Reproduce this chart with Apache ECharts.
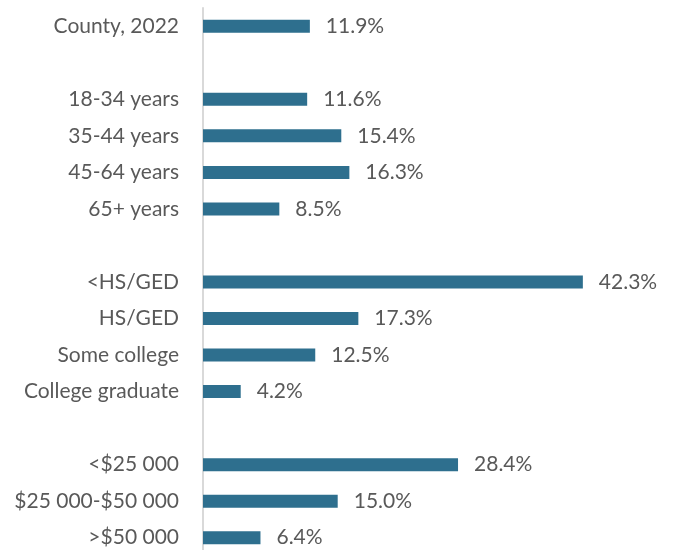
<!DOCTYPE html>
<html>
<head>
<meta charset="utf-8">
<script src="https://cdn.jsdelivr.net/npm/echarts@6/dist/echarts.min.js"></script>
<style>
  html, body { margin: 0; padding: 0; background: #fff; }
  #chart { width: 676px; height: 550px; }
</style>
</head>
<body>
<div id="chart"></div>
<script>
// categories, blanks are spacer rows between groups
const categories = [
    'County, 2022', ' ',
    '18-34 years', '35-44 years', '45-64 years', '65+ years', '  ',
    '<HS/GED', 'HS/GED', 'Some college', 'College graduate', '   ',
    '<$25 000', '$25 000-$50 000', '>$50 000'
];
const values = [
    11.9, null,
    11.6, 15.4, 16.3, 8.5, null,
    42.3, 17.3, 12.5, 4.2, null,
    28.4, 15.0, 6.4
];

let myChart = echarts.init(document.getElementById('chart'));
let option = {
    animation: false,
    textStyle: {fontFamily: 'Lato'},
    grid: {
        left: 203,
        right: 24,
        top: 8,
        height: 548,
        containLabel: false,
        outerBoundsMode: 'none'
    },
    xAxis: {
        type: 'value',
        min: 0,
        max: 50,
        show: false,
        splitLine: {show: false}
    },
    yAxis: {
        type: 'category',
        data: categories,
        inverse: true,
        axisTick: {show: false},
        axisLine: {lineStyle: {color: '#D9D9D9', width: 2}},
        axisLabel: {
            color: '#595959',
            fontSize: 21,
            margin: 24,
            fontFamily: 'Lato'
        }
    },
    series: [{
        type: 'bar',
        data: values,
        barWidth: 13,
        itemStyle: {color: '#2E6F8E'},
        label: {
            show: true,
            position: 'right',
            distance: 16,
            color: '#595959',
            fontSize: 21,
            fontFamily: 'Lato',
            formatter: (p) => p.value == null ? '' : p.value.toFixed(1) + '%'
        }
    }]
};
myChart.setOption(option);
</script>
</body>
</html>
